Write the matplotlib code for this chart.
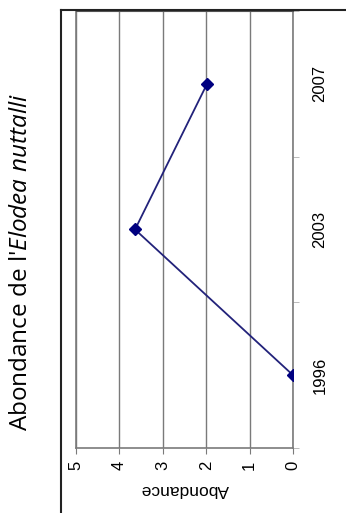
import numpy as np
import matplotlib
matplotlib.use("Agg")
import matplotlib.pyplot as plt
from matplotlib.lines import Line2D
from matplotlib.ticker import FixedLocator

# data (chart is drawn rotated 90 degrees, as in the scanned page)
years = ["1996", "2003", "2007"]
abondance = [0.0, 3.64, 1.98]
ticks_abondance = [0, 1, 2, 3, 4, 5]

plt.rcParams['mathtext.fontset'] = 'custom'
plt.rcParams['mathtext.rm'] = 'Open Sans'
plt.rcParams['mathtext.it'] = 'Open Sans:italic'

W, H = 346, 513
fig = plt.figure(figsize=(W / 100, H / 100), dpi=100)

# outer chart border (left and top edges, rest is cut off)
fig.add_artist(Line2D([61 / W, 61 / W], [0, 1 - 10 / H], color='#222222', lw=1.5))
fig.add_artist(Line2D([61 / W, 1], [1 - 10 / H, 1 - 10 / H], color='#222222', lw=1.5))

ax = fig.add_axes([76 / W, 1 - 448 / H, (293 - 76) / W, (448 - 11) / H])
pos = np.arange(len(years))
ax.plot(abondance, pos, color='#22227a', lw=1.3, marker='D', ms=6,
        mfc='#000080', mec='#000080', zorder=3)

ax.set_xlim(5, 0)
ax.set_ylim(-0.5, len(years) - 0.5)
ax.set_xticks(ticks_abondance)
ax.set_xticklabels([str(t) for t in ticks_abondance], rotation=90,
                   fontsize=12, family='Liberation Sans')
ax.grid(axis='x', color='#7a7a7a', lw=1)
ax.set_axisbelow(True)

ax.yaxis.tick_right()
ax.set_yticks(pos)
ax.set_yticklabels(years, rotation=90, fontsize=12, family='Liberation Sans',
                   va='center')
ax.yaxis.set_minor_locator(FixedLocator(np.arange(len(years) + 1) - 0.5))
ax.tick_params(axis='y', which='major', length=0, pad=14)
ax.tick_params(axis='y', which='minor', length=4, color='#b0b0b0', direction='out')
ax.tick_params(axis='x', length=4, color='#7a7a7a', pad=5)

for s in ['left', 'bottom', 'right']:
    ax.spines[s].set_color('#7a7a7a')
    ax.spines[s].set_linewidth(1.2)
ax.spines['top'].set_color('#555555')

ax.set_xlabel('Abondance', rotation=180, fontsize=12.5, family='Liberation Sans',
              labelpad=9)

fig.text(21 / W, 1 - 262 / H, r"Abondance de l'$Elodea\ nuttalli$",
         rotation=90, fontsize=17.5, family='Open Sans', ha='center', va='center')

fig.savefig('out.png', dpi=100)
